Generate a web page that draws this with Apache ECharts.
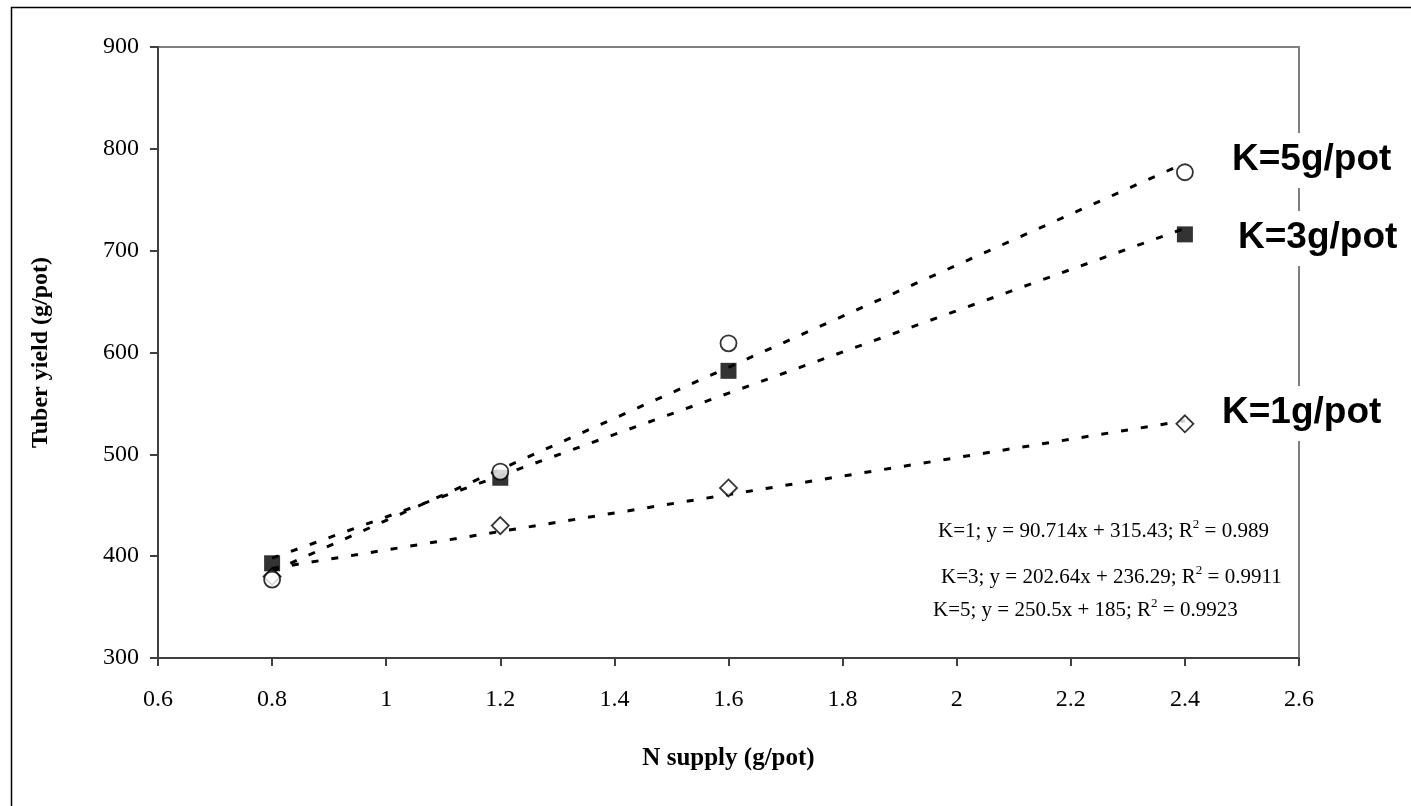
<!DOCTYPE html>
<html>
<head>
<meta charset="utf-8">
<script src="https://cdn.jsdelivr.net/npm/echarts@6/dist/echarts.min.js"></script>
<style>html,body{margin:0;padding:0;background:#fff;}#c{width:1411px;height:806px;}</style>
</head>
<body>
<div id="c"></div>
<script>
// Data
const nSupply = [0.8, 1.2, 1.6, 2.4];
const k5 = [377, 483, 609, 777];
const k3 = [393, 477, 582, 716];
const k1 = [380, 430, 467, 530];
// trendline end points
const trendX = [0.8, 2.4];
const k5Trend = [385, 786];
const k3Trend = [398, 722];
const k1Trend = [388, 533];
const seriesLabels = ['K=5g/pot', 'K=3g/pot', 'K=1g/pot'];
const equations = [
  ['K=1; y = 90.714x + 315.43; R', '2', ' = 0.989'],
  ['K=3; y = 202.64x + 236.29; R', '2', ' = 0.9911'],
  ['K=5; y = 250.5x + 185; R', '2', ' = 0.9923']
];
const xTitle = 'N supply (g/pot)';
const yTitle = 'Tuber yield (g/pot)';

const pair = (xs, ys) => xs.map((x, i) => [x, ys[i]]);
const serif = '"Liberation Serif", "Times New Roman", serif';
const sans = '"Liberation Sans", Arial, sans-serif';

const chart = echarts.init(document.getElementById('c'), null, {renderer: 'canvas'});

const trendStyle = {color: '#000', width: 3, type: [7, 13]};
const eqGraphic = (i, x, y) => ({
  type: 'text', left: x, top: y, z: 20,
  style: {
    rich: {
      m: {fontFamily: serif, fontSize: 21, fill: '#000', lineHeight: 26},
      s: {fontFamily: serif, fontSize: 13, fill: '#000', lineHeight: 26, verticalAlign: 'top', padding: [0, 0, 4, 0]}
    },
    text: '{m|' + equations[i][0] + '}{s|' + equations[i][1] + '}{m|' + equations[i][2] + '}'
  }
});
const kLabel = (i, x, y) => ({
  type: 'text', left: x, top: y, z: 20,
  style: {
    text: seriesLabels[i], fontFamily: sans, fontWeight: 'bold', fontSize: 37, fill: '#000',
    backgroundColor: '#fff', padding: [8, 4, 10, 4]
  }
});

chart.setOption({
  animation: false,
  backgroundColor: '#fff',
  grid: {left: 158, top: 47, right: 112, bottom: 148, show: true, borderColor: '#808080', borderWidth: 2, backgroundColor: 'transparent'},
  xAxis: {
    type: 'value', min: 0.6, max: 2.6, interval: 0.2,
    name: xTitle, nameLocation: 'middle', nameGap: 88,
    nameTextStyle: {fontFamily: serif, fontWeight: 'bold', fontSize: 25, color: '#000'},
    axisLine: {show: true, onZero: false, lineStyle: {color: '#404040', width: 2}},
    axisTick: {show: true, inside: false, length: 8, lineStyle: {color: '#404040', width: 2}},
    axisLabel: {margin: 30, fontFamily: serif, fontSize: 24, color: '#000',
      formatter: v => String(Math.round(v * 10) / 10)},
    splitLine: {show: false}
  },
  yAxis: {
    type: 'value', min: 300, max: 900, interval: 100,
    name: yTitle, nameLocation: 'middle', nameGap: 105, nameRotate: 90,
    nameTextStyle: {fontFamily: serif, fontWeight: 'bold', fontSize: 24, color: '#000'},
    axisLine: {show: true, onZero: false, lineStyle: {color: '#404040', width: 2}},
    axisTick: {show: true, inside: false, length: 8, lineStyle: {color: '#404040', width: 2}},
    axisLabel: {margin: 19, fontFamily: serif, fontSize: 24, color: '#000'},
    splitLine: {show: false}
  },
  series: [
    {type: 'line', data: pair(trendX, k5Trend), symbol: 'none', lineStyle: trendStyle, z: 2, silent: true},
    {type: 'line', data: pair(trendX, k3Trend), symbol: 'none', lineStyle: trendStyle, z: 2, silent: true},
    {type: 'line', data: pair(trendX, k1Trend), symbol: 'none', lineStyle: trendStyle, z: 2, silent: true},
    {type: 'scatter', data: pair(nSupply, k1), symbol: 'diamond', symbolSize: 17,
      itemStyle: {color: '#fff', borderColor: '#000', borderWidth: 1.8}, z: 5},
    {type: 'scatter', data: pair(nSupply, k3), symbol: 'rect', symbolSize: 16,
      itemStyle: {color: '#000', borderColor: '#000', borderWidth: 0}, z: 6},
    {type: 'scatter', data: pair(nSupply, k5), symbol: 'circle', symbolSize: 16,
      itemStyle: {color: '#fff', borderColor: '#000', borderWidth: 1.8}, z: 7}
  ],
  graphic: [
    {type: 'rect', left: 9, top: 5, z: 30, silent: true,
      shape: {x: 0, y: 0, width: 1500, height: 900},
      style: {fill: 'none', stroke: '#000', lineWidth: 1.5}},
    kLabel(0, 1228, 133),
    kLabel(1, 1234, 211),
    kLabel(2, 1218, 386),
    eqGraphic(0, 938, 518),
    eqGraphic(1, 941, 564),
    eqGraphic(2, 933, 597)
  ]
});
</script>
</body>
</html>
